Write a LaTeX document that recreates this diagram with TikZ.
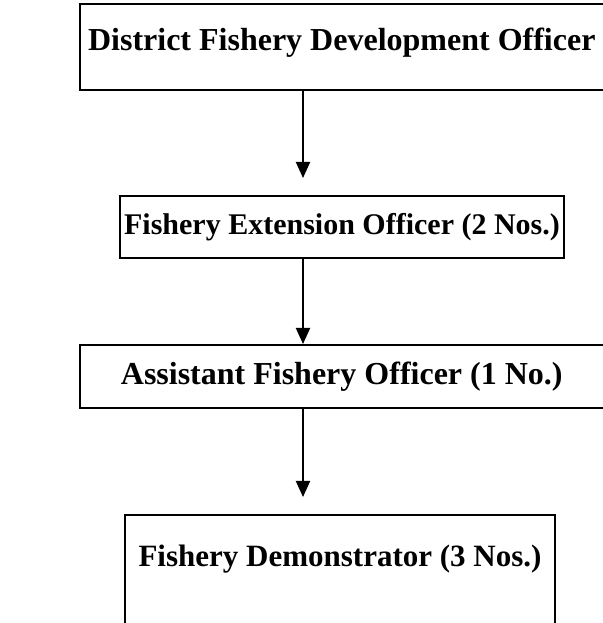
\documentclass[tikz,border=0pt]{standalone}
\usepackage{fontspec}
\setmainfont{Liberation Serif}
\usetikzlibrary{arrows.meta}

\begin{document}
\begin{tikzpicture}[
    x=0.5pt, y=0.5pt,
    >={Triangle[length=8pt,width=7pt]},
    post/.style={draw, line width=1pt, rectangle, inner sep=0pt,
        font=\fontsize{#1}{18}\selectfont\bfseries,
        text height=11pt, text depth=3.4pt},
    post/.default=15.5,
    link/.style={->, line width=1pt}
]

% Marco
\useasboundingbox (0,0) rectangle (603,623);

% Cargos
\node[post=16, minimum width=261.75pt, minimum height=43pt, text depth=8pt] (dfdo) at (341.75,576) {District Fishery Development Officer};

\node[post=15, minimum width=222pt, minimum height=31pt] (feo) at (342,396) {Fishery Extension Officer (2 Nos.)};

\node[post=16, minimum width=261.75pt, minimum height=31.5pt] (afo) at (341.75,246.5) {Assistant Fishery Officer (1 No.)};

\node[post=15.5, minimum width=215pt, minimum height=65pt, text depth=24pt] (fd) at (340,43) {Fishery Demonstrator (3 Nos.)};

% Eje de las flechas
\coordinate (spine) at (303,0);

% Conexiones
\draw[link, shorten >=8.5pt] (spine |- dfdo.south) -- (spine |- feo.north);
\draw[link] (spine |- feo.south) -- (spine |- afo.north);
\draw[link, shorten >=8.5pt] (spine |- afo.south) -- (spine |- fd.north);

\end{tikzpicture}
\end{document}
